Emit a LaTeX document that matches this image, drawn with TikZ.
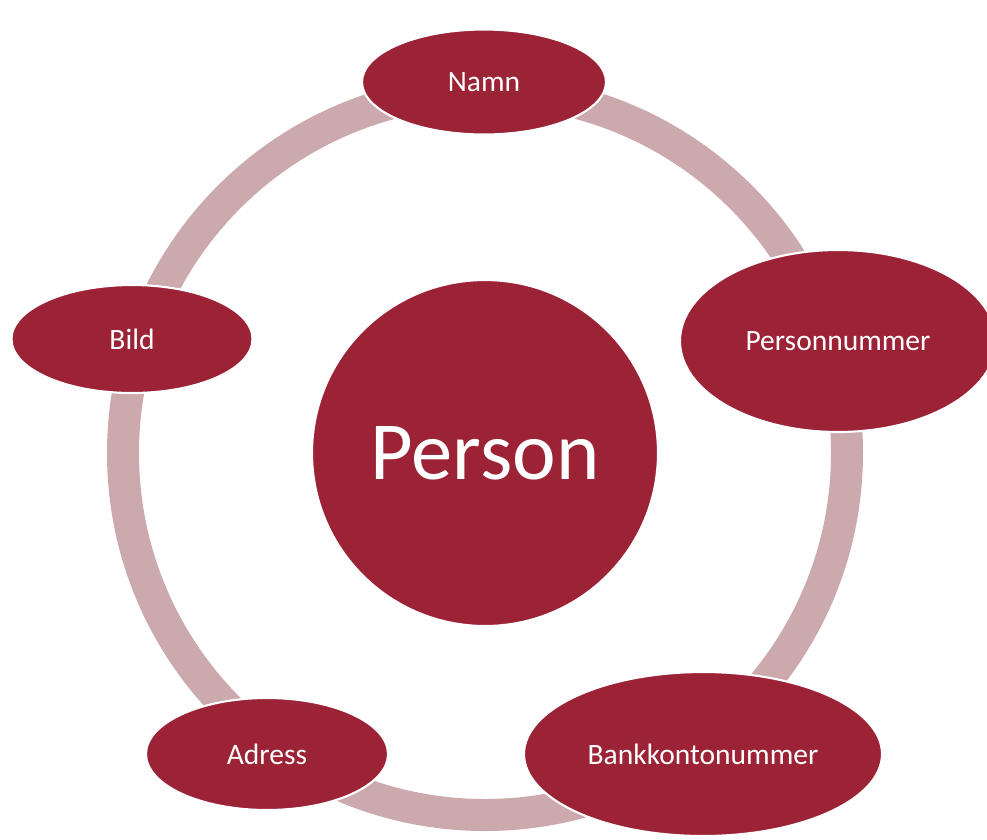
\documentclass[tikz,border=0pt]{standalone}
\usepackage{fontspec}
\setmainfont{Carlito}
\usetikzlibrary{shapes.geometric}

\definecolor{wine}{HTML}{9C2236}
\definecolor{rose}{HTML}{CBA9AD}

\tikzset{
	attr/.style={ellipse, fill=wine, draw=white, line width=1.2pt, inner sep=0pt, text=white, font=\fontsize{16.8}{20}\selectfont},
	core/.style={circle, fill=wine, draw=white, line width=1.2pt, inner sep=0pt, text=white, font=\fontsize{47}{56}\selectfont}
}

\begin{document}
\begin{tikzpicture}[x=0.02cm,y=-0.02cm]
	\useasboundingbox (0,0) rectangle (987,839);

	%RING
	\draw[rose, line width=0.64cm] (485,453) circle (362*0.02cm);

	%CENTRE
	\node[core, minimum size=346*0.02cm] (person) at (485,453) {Person};

	%ATTRIBUTES
	\foreach \nm/\x/\y/\w/\h in {Namn/484/82/244/105, Personnummer/838/341/316/182, Bankkontonummer/703/754/358/164, Adress/267/754/242/112, Bild/132/339/241/108}{
		\node[attr, minimum width=\w*0.02cm, minimum height=\h*0.02cm] (\nm) at (\x,\y) {\nm}; %ellipses
	}	%end foreach
\end{tikzpicture}
\end{document}
